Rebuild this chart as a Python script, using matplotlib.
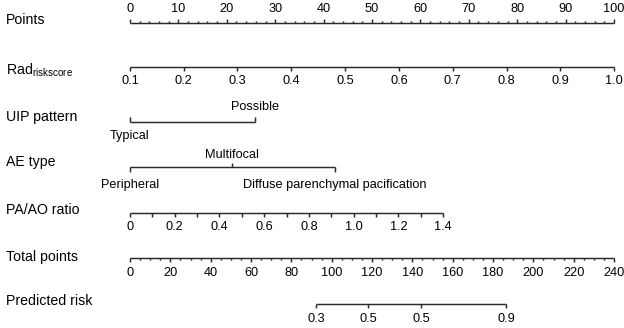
import matplotlib
matplotlib.use("Agg")
import matplotlib.pyplot as plt

plt.rcParams['font.family'] = ['Liberation Sans', 'DejaVu Sans']
plt.rcParams['mathtext.fontset'] = 'custom'
plt.rcParams['mathtext.rm'] = 'Liberation Sans'

# ---------------- data ----------------
row_labels = ["Points", "Rad$_{\\mathregular{riskscore}}$", "UIP pattern", "AE type",
              "PA/AO ratio", "Total points", "Predicted risk"]

points_ticks = list(range(0, 101, 10))

rad_values = [0.1, 0.2, 0.3, 0.4, 0.5, 0.6, 0.7, 0.8, 0.9, 1.0]
rad_labels = ["0.1", "0.2", "0.3", "0.4", "0.5", "0.6", "0.7", "0.8", "0.9", "1.0"]
rad_points = [0, 11.1, 22.2, 33.3, 44.4, 55.6, 66.7, 77.8, 88.9, 100]

uip_labels = ["Typical", "Possible"]
uip_points = [0, 25.8]

ae_labels = ["Peripheral", "Multifocal", "Diffuse parenchymal pacification"]
ae_points = [0, 21.1, 42.4]

paao_values = [0, 0.1, 0.2, 0.3, 0.4, 0.5, 0.6, 0.7, 0.8, 0.9, 1.0, 1.1, 1.2, 1.3, 1.4]
paao_labels = ["0", "", "0.2", "", "0.4", "", "0.6", "", "0.8", "", "1.0", "", "1.2", "", "1.4"]
paao_max_points = 64.7

total_ticks = list(range(0, 241, 20))
total_max = 240

risk_labels = ["0.3", "0.5", "0.5", "0.9"]
risk_total_points = [92.2, 118.0, 144.3, 186.4]

# ---------------- layout ----------------
W, H = 624, 328
x0_px, x100_px = 130, 614
ppx = (x100_px - x0_px) / 100.0

fig = plt.figure(figsize=(W / 100, H / 100), dpi=100)
ax = fig.add_axes([0, 0, 1, 1])
ax.set_xlim(-x0_px / ppx, (W - x0_px) / ppx)
ax.set_ylim(H, 0)
ax.axis('off')

LC = '#2a2a2a'
LW = 1.05
TFS = 9.2
RFS = 10.2


def tick(x, y, length, up):
    ax.plot([x, x], [y, y - length if up else y + length], color=LC, lw=LW,
            solid_capstyle='butt')


def hline(xa, xb, y):
    ax.plot([xa, xb], [y, y], color=LC, lw=LW, solid_capstyle='butt')


row_y = [22.5, 67, 121.5, 167, 212.5, 257.5, 304]
label_y = [20, 70, 117, 162, 210, 257, 301]
for lab, ly in zip(row_labels, label_y):
    ax.text(-x0_px / ppx + 6 / ppx, ly, lab, fontsize=RFS, va='center', ha='left')

# Points
y = row_y[0]
hline(0, 100, y)
for v in range(0, 101, 2):
    tick(v, y, 4 if v % 10 == 0 else 2, True)
for v in points_ticks:
    ax.text(v, y - 14, str(v), fontsize=TFS, ha='center', va='center')

# Rad riskscore
y = row_y[1]
hline(rad_points[0], rad_points[-1], y)
for p, l in zip(rad_points, rad_labels):
    tick(p, y, 4, False)
    ax.text(p, y + 14, l, fontsize=TFS, ha='center', va='center')

# UIP pattern
y = row_y[2]
hline(uip_points[0], uip_points[1], y)
tick(uip_points[0], y, 5, True)
tick(uip_points[1], y, 5, True)
ax.text(uip_points[0], y + 14, uip_labels[0], fontsize=TFS, ha='center', va='center')
ax.text(uip_points[1], y - 15, uip_labels[1], fontsize=TFS, ha='center', va='center')

# AE type
y = row_y[3]
hline(ae_points[0], ae_points[2], y)
tick(ae_points[0], y, 5, False)
tick(ae_points[1], y, 4, True)
tick(ae_points[2], y, 5, False)
ax.text(ae_points[0], y + 18, ae_labels[0], fontsize=TFS, ha='center', va='center')
ax.text(ae_points[1], y - 12.5, ae_labels[1], fontsize=TFS, ha='center', va='center')
ax.text(ae_points[2], y + 18, ae_labels[2], fontsize=TFS, ha='center', va='center')

# PA/AO ratio
y = row_y[4]
pmax = paao_values[-1]
ppos = [v / pmax * paao_max_points for v in paao_values]
hline(ppos[0], ppos[-1], y)
for p, l in zip(ppos, paao_labels):
    tick(p, y, 4, False)
    if l:
        ax.text(p, y + 15, l, fontsize=TFS, ha='center', va='center')

# Total points
y = row_y[5]
hline(0, 100, y)
for v in range(0, total_max + 1, 5):
    tick(v / total_max * 100, y, 4 if v % 20 == 0 else 2.5, False)
for v in total_ticks:
    ax.text(v / total_max * 100, y + 15, str(v), fontsize=TFS, ha='center', va='center')

# Predicted risk
y = row_y[6]
rpos = [v / total_max * 100 for v in risk_total_points]
hline(rpos[0], rpos[-1], y)
for p, l in zip(rpos, risk_labels):
    tick(p, y, 4, False)
    ax.text(p, y + 15.5, l, fontsize=TFS, ha='center', va='center')

fig.savefig("out.png", dpi=100)
